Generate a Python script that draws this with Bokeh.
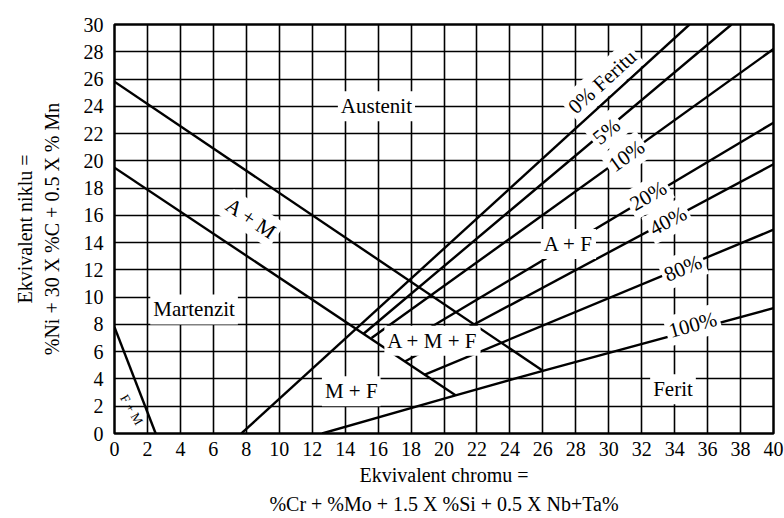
from bokeh.plotting import figure
from bokeh.models import Label, FixedTicker, Range1d
from bokeh.embed import file_html
from bokeh.resources import INLINE

# Axis ticks (chromium equivalent on x, nickel equivalent on y)
cr_ticks = list(range(0, 41, 2))
ni_ticks = list(range(0, 31, 2))

# Phase boundaries of the Schaeffler diagram
am_upper_cr = [0.0, 26.0]
am_upper_ni = [25.8, 4.6]
am_lower_cr = [0.0, 20.7]
am_lower_ni = [19.5, 2.8]
fm_cr = [0.0, 2.5]
fm_ni = [7.8, 0.0]

# Iso-ferrite lines
ferrite_0_cr = [7.7, 34.9]
ferrite_0_ni = [0.0, 30.0]
ferrite_5_cr = [15.1, 37.45]
ferrite_5_ni = [7.3, 30.0]
ferrite_10_cr = [15.6, 40.0]
ferrite_10_ni = [7.0, 28.2]
ferrite_20_cr = [16.7, 40.0]
ferrite_20_ni = [6.0, 22.8]
ferrite_40_cr = [17.65, 40.0]
ferrite_40_ni = [5.3, 19.75]
ferrite_80_cr = [18.8, 40.0]
ferrite_80_ni = [4.3, 14.95]
ferrite_100_cr = [12.6, 20.7, 26.0, 40.0]
ferrite_100_ni = [0.0, 2.8, 4.6, 9.2]

# Axis titles
x_title = "Ekvivalent chromu =\n%Cr + %Mo + 1.5 X %Si + 0.5 X Nb+Ta%"
y_title = "Ekvivalent niklu =\n%Ni + 30 X %C + 0.5 X % Mn"

FONT = "Liberation Serif"

p = figure(width=784, height=518, output_backend="svg", toolbar_location=None,
           x_range=Range1d(0, 40), y_range=Range1d(0, 30),
           min_border_left=114, min_border_right=11, min_border_top=24, min_border_bottom=85)

p.outline_line_color = "black"
p.outline_line_width = 2.5
p.background_fill_color = "white"
p.border_fill_color = "white"

p.xaxis.ticker = FixedTicker(ticks=cr_ticks)
p.yaxis.ticker = FixedTicker(ticks=ni_ticks)
p.xgrid.ticker = FixedTicker(ticks=cr_ticks)
p.ygrid.ticker = FixedTicker(ticks=ni_ticks)
for g in (p.xgrid, p.ygrid):
    g.grid_line_color = "black"
    g.grid_line_width = 1.6
    g.grid_line_alpha = 1.0

for ax in (p.xaxis, p.yaxis):
    ax.axis_line_color = None
    ax.major_tick_line_color = None
    ax.minor_tick_line_color = None
    ax.major_label_text_font = FONT
    ax.major_label_text_font_size = "20px"
    ax.major_label_text_color = "black"
    ax.axis_label_text_font = FONT
    ax.axis_label_text_font_size = "20px"
    ax.axis_label_text_font_style = "normal"
    ax.axis_label_text_color = "black"

p.xaxis.major_label_standoff = 2
p.yaxis.major_label_standoff = 5
p.xaxis.axis_label = x_title
p.xaxis.axis_label_text_line_height = 1.35
p.xaxis.axis_label_standoff = 5
p.yaxis.axis_label = y_title
p.yaxis.axis_label_standoff = 18

LW = 2.4
for xs, ys in [
    (am_upper_cr, am_upper_ni), (am_lower_cr, am_lower_ni), (fm_cr, fm_ni),
    (ferrite_0_cr, ferrite_0_ni), (ferrite_5_cr, ferrite_5_ni),
    (ferrite_10_cr, ferrite_10_ni), (ferrite_20_cr, ferrite_20_ni),
    (ferrite_40_cr, ferrite_40_ni), (ferrite_80_cr, ferrite_80_ni),
    (ferrite_100_cr, ferrite_100_ni),
]:
    p.line(xs, ys, line_color="black", line_width=LW)


def lab(x, y, text, angle=0.0, size="21px", bg=True):
    p.add_layout(Label(x=x, y=y, text=text, angle=angle, angle_units="deg",
                       text_font=FONT, text_font_size=size, text_color="black",
                       text_align="center", text_baseline="middle",
                       background_fill_color="white" if bg else None,
                       padding=3))


lab(15.9, 24.0, "Austenit")
lab(4.83, 9.1, "Martenzit")
lab(8.3, 15.75, "A + M", angle=-34)
lab(19.3, 6.8, "A + M + F")
lab(14.37, 3.1, "M + F")
lab(27.55, 13.9, "A + F")
lab(33.9, 3.25, "Ferit")
lab(1.05, 1.75, "F + M", angle=-60, size="13px", bg=False)

lab(29.6, 25.8, "0% Feritu", angle=42.4)
lab(29.86, 22.16, "5%", angle=39.6)
lab(31.08, 20.37, "10%", angle=35.6)
lab(32.4, 17.44, "20%", angle=30.5)
lab(33.6, 15.6, "40%", angle=28)
lab(34.5, 12.13, "80%", angle=22.6)
lab(35.1, 7.97, "100%", angle=15.3)

open("out.html", "w").write(file_html(p, INLINE))
